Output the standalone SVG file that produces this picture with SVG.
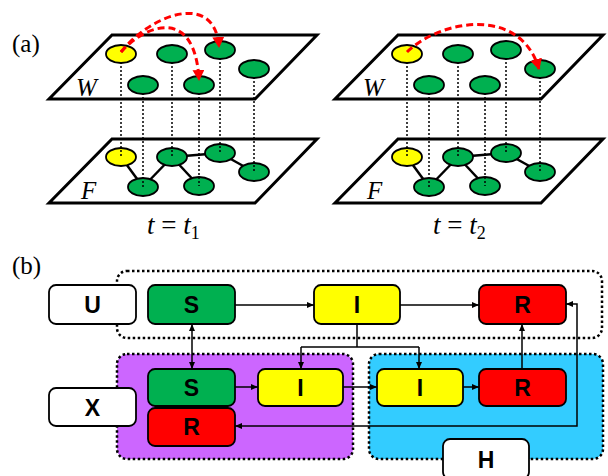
<svg xmlns="http://www.w3.org/2000/svg" width="608" height="476" viewBox="0 0 608 476">
<style>
.plane{fill:#fff;stroke:#000;stroke-width:3;stroke-linejoin:miter}
.g{fill:#00B050;stroke:#000;stroke-width:1.8}
.y{fill:#FFFF00;stroke:#000;stroke-width:1.8}
.r{fill:#FF0000;stroke:#000;stroke-width:1.8}
.w{fill:#fff;stroke:#000;stroke-width:1.8}
.edge{stroke:#000;stroke-width:2.5;fill:none}
.dot{stroke:#000;stroke-width:1.5;stroke-dasharray:2 2;fill:none}
.hop{stroke:#FF0000;stroke-width:3;stroke-dasharray:7 4;fill:none;marker-end:url(#ra)}
.lbl{font-family:"Liberation Serif",serif;font-style:italic;font-size:25px}
.tl{font-family:"Liberation Serif",serif;font-style:italic;font-size:27px}
.cap{font-family:"Liberation Serif",serif;font-size:25px}
.bt{font-family:"Liberation Sans",Arial,sans-serif;font-weight:bold;font-size:23px;text-anchor:middle}
.cont{stroke:#000;stroke-width:2.5;stroke-dasharray:2.5 2.5}
.con{stroke:#000;stroke-width:1.5;fill:none}
</style>
<defs>
<marker id="ra" markerUnits="userSpaceOnUse" markerWidth="14" markerHeight="14" refX="10" refY="6" orient="auto">
<path d="M0,0 L11,6 L0,12 Z" fill="#FF0000"/>
</marker>
<marker id="ah" markerUnits="userSpaceOnUse" markerWidth="8" markerHeight="8" refX="7" refY="4" orient="auto">
<path d="M0,1 L7,4 L0,7 Z" fill="#000"/>
</marker>
<marker id="as" markerUnits="userSpaceOnUse" markerWidth="8" markerHeight="8" refX="0" refY="4" orient="auto">
<path d="M7,1 L0,4 L7,7 Z" fill="#000"/>
</marker>
</defs>

<text class="cap" x="12" y="52">(a)</text>
<text class="cap" x="12" y="274">(b)</text>

<!-- Panel t1 -->
<g id="panel-t1">
<polygon class="plane" points="112,35 317,35 255,99 49,99"/>
<polygon class="plane" points="112,139 317,139 255,203 49,203"/>
<text class="lbl" x="76" y="96">W</text>
<text class="lbl" x="81" y="199">F</text>
<g id="f-edges-1">
<line class="edge" x1="121" y1="157" x2="143" y2="187"/>
<line class="edge" x1="143" y1="187" x2="172" y2="157"/>
<line class="edge" x1="172" y1="157" x2="199" y2="186"/>
<line class="edge" x1="172" y1="157" x2="220" y2="153"/>
<line class="edge" x1="220" y1="153" x2="254" y2="172"/>
</g>
<g id="f-nodes-1">
<ellipse class="y" cx="121" cy="157" rx="15" ry="9"/>
<ellipse class="g" cx="143" cy="187" rx="15" ry="9"/>
<ellipse class="g" cx="172" cy="157" rx="15" ry="9"/>
<ellipse class="g" cx="199" cy="186" rx="15" ry="9"/>
<ellipse class="g" cx="220" cy="153" rx="15" ry="9"/>
<ellipse class="g" cx="254" cy="172" rx="15" ry="9"/>
</g>
<g id="links-1">
<line class="dot" x1="121" y1="54" x2="121" y2="157"/>
<line class="dot" x1="143" y1="85" x2="143" y2="187"/>
<line class="dot" x1="172" y1="54" x2="172" y2="157"/>
<line class="dot" x1="199" y1="85" x2="199" y2="186"/>
<line class="dot" x1="220" y1="50" x2="220" y2="153"/>
<line class="dot" x1="254" y1="69" x2="254" y2="172"/>
</g>
<g id="w-nodes-1">
<ellipse class="y" cx="121" cy="54" rx="15" ry="9"/>
<ellipse class="g" cx="172" cy="54" rx="15" ry="9"/>
<ellipse class="g" cx="220" cy="50" rx="15" ry="9"/>
<ellipse class="g" cx="254" cy="69" rx="15" ry="9"/>
<ellipse class="g" cx="143" cy="85" rx="15" ry="9"/>
<ellipse class="g" cx="199" cy="85" rx="15" ry="9"/>
</g>
<path class="hop" d="M121,52 C150,15 215,-10 219,47"/>
<path class="hop" d="M121,52 C145,25 195,5 199,80"/>
<text class="tl" x="147" y="234">t<tspan font-style="normal"> = </tspan>t<tspan font-style="normal" font-size="18" dy="5">1</tspan></text>
</g>

<!-- Panel t2 -->
<g id="panel-t2">
<polygon class="plane" points="398,35 603,35 541,99 335,99"/>
<polygon class="plane" points="398,139 603,139 541,203 335,203"/>
<text class="lbl" x="363" y="96">W</text>
<text class="lbl" x="367" y="199">F</text>
<g id="f-edges-2">
<line class="edge" x1="407" y1="157" x2="429" y2="187"/>
<line class="edge" x1="429" y1="187" x2="458" y2="157"/>
<line class="edge" x1="458" y1="157" x2="485" y2="186"/>
<line class="edge" x1="458" y1="157" x2="506" y2="153"/>
<line class="edge" x1="506" y1="153" x2="540" y2="172"/>
</g>
<g id="f-nodes-2">
<ellipse class="y" cx="407" cy="157" rx="15" ry="9"/>
<ellipse class="g" cx="429" cy="187" rx="15" ry="9"/>
<ellipse class="g" cx="458" cy="157" rx="15" ry="9"/>
<ellipse class="g" cx="485" cy="186" rx="15" ry="9"/>
<ellipse class="g" cx="506" cy="153" rx="15" ry="9"/>
<ellipse class="g" cx="540" cy="172" rx="15" ry="9"/>
</g>
<g id="links-2">
<line class="dot" x1="407" y1="54" x2="407" y2="157"/>
<line class="dot" x1="429" y1="85" x2="429" y2="187"/>
<line class="dot" x1="458" y1="54" x2="458" y2="157"/>
<line class="dot" x1="485" y1="85" x2="485" y2="186"/>
<line class="dot" x1="506" y1="50" x2="506" y2="153"/>
<line class="dot" x1="540" y1="69" x2="540" y2="172"/>
</g>
<g id="w-nodes-2">
<ellipse class="y" cx="407" cy="54" rx="15" ry="9"/>
<ellipse class="g" cx="458" cy="54" rx="15" ry="9"/>
<ellipse class="g" cx="506" cy="50" rx="15" ry="9"/>
<ellipse class="g" cx="540" cy="69" rx="15" ry="9"/>
<ellipse class="g" cx="429" cy="85" rx="15" ry="9"/>
<ellipse class="g" cx="485" cy="85" rx="15" ry="9"/>
</g>
<path class="hop" d="M407,52 C440,20 520,5 539,69"/>
<text class="tl" x="433" y="234">t<tspan font-style="normal"> = </tspan>t<tspan font-style="normal" font-size="18" dy="5">2</tspan></text>
</g>

<!-- Panel (b) -->
<g id="containers">
<rect id="U-region" class="cont" x="117" y="271" width="485" height="67" rx="10" fill="none"/>
<rect id="X-region" class="cont" x="117" y="354" width="236" height="105" rx="10" fill="#CC66FF"/>
<rect id="H-region" class="cont" x="369" y="354" width="234" height="105" rx="10" fill="#33CCFF"/>
</g>

<g id="U"><rect class="w" x="49" y="285" width="87" height="39" rx="7"/><text class="bt" x="92.5" y="313">U</text></g>
<g id="X"><rect class="w" x="49" y="388" width="87" height="38" rx="7"/><text class="bt" x="92.5" y="416">X</text></g>
<g id="H"><rect class="w" x="443" y="439" width="86" height="40" rx="7"/><text class="bt" x="486" y="468">H</text></g>

<g id="U-S"><rect class="g" x="148" y="285" width="87" height="39" rx="7"/><text class="bt" x="191.5" y="313">S</text></g>
<g id="U-I"><rect class="y" x="314" y="285" width="86" height="39" rx="7"/><text class="bt" x="357" y="313">I</text></g>
<g id="U-R"><rect class="r" x="479" y="285" width="87" height="39" rx="7"/><text class="bt" x="522.5" y="313">R</text></g>
<g id="X-S"><rect class="g" x="148" y="369" width="87" height="37" rx="7"/><text class="bt" x="191.5" y="396">S</text></g>
<g id="X-R"><rect class="r" x="148" y="408" width="87" height="38" rx="7"/><text class="bt" x="191.5" y="435">R</text></g>
<g id="X-I"><rect class="y" x="258" y="369" width="85" height="37" rx="7"/><text class="bt" x="300.5" y="396">I</text></g>
<g id="H-I"><rect class="y" x="377" y="369" width="86" height="37" rx="7"/><text class="bt" x="420" y="396">I</text></g>
<g id="H-R"><rect class="r" x="479" y="369" width="87" height="37" rx="7"/><text class="bt" x="522.5" y="396">R</text></g>

<g id="connectors">
<line class="con" x1="235" y1="305" x2="314" y2="305" marker-end="url(#ah)"/>
<line class="con" x1="400" y1="305" x2="479" y2="305" marker-end="url(#ah)"/>
<line class="con" x1="192" y1="324" x2="192" y2="369" marker-start="url(#as)" marker-end="url(#ah)"/>
<path class="con" d="M357,324 V347"/>
<path class="con" d="M301,347 H419"/>
<line class="con" x1="301" y1="347" x2="301" y2="369" marker-end="url(#ah)"/>
<line class="con" x1="419" y1="347" x2="419" y2="369" marker-end="url(#ah)"/>
<line class="con" x1="235" y1="387" x2="258" y2="387" marker-end="url(#ah)"/>
<line class="con" x1="343" y1="387" x2="377" y2="387" marker-end="url(#ah)"/>
<line class="con" x1="463" y1="387" x2="479" y2="387" marker-end="url(#ah)"/>
<line class="con" x1="522" y1="369" x2="522" y2="324" marker-end="url(#ah)"/>
<path class="con" d="M235,426 H577 V304 H566" marker-start="url(#as)" marker-end="url(#ah)"/>
</g>
</svg>
